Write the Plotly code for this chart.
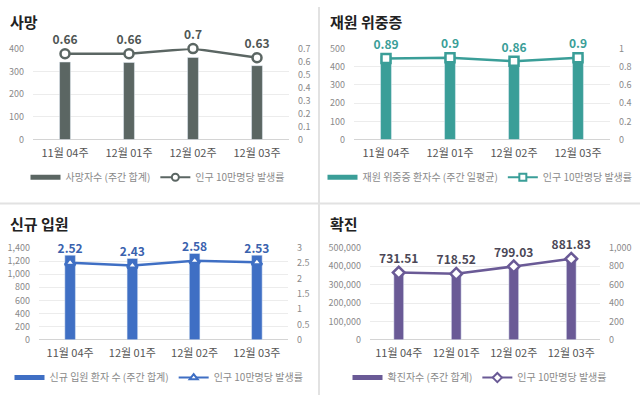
import plotly.graph_objects as go

W, H = 640, 401

weeks = ['11월 04주', '12월 01주', '12월 02주', '12월 03주']

# 사망
death_total = [341, 339, 361, 325]
death_rate = [0.66, 0.66, 0.7, 0.63]
# 재원 위중증
severe_avg = [459, 464, 444, 464]
severe_rate = [0.89, 0.9, 0.86, 0.9]
# 신규 입원
hosp_total = [1290, 1240, 1315, 1290]
hosp_rate = [2.52, 2.43, 2.58, 2.53]
# 확진
conf_total = [377400, 370700, 412300, 455000]
conf_rate = [731.51, 718.52, 799.03, 881.83]

FONT = 'Noto Sans CJK KR'


def px_x(v):
    return v / W


def px_y(v):
    return 1 - v / H


panels = [
    dict(title='사망', bars=death_total, rate=death_rate, color='#5b6663', label_color='#4f5654',
         bar_name='사망자수 (주간 합계)', symbol='circle', left=(0, 400, 100), right=(0, 0.70001, 0.1),
         xd=(33, 289), yd=(43, 137), tx=8, ty=15, lx=158, ly=176),
    dict(title='재원 위중증', bars=severe_avg, rate=severe_rate, color='#3a9e98', label_color='#3a9e98',
         bar_name='재원 위중증 환자수 (주간 일평균)', symbol='square', left=(0, 500, 100), right=(0, 1, 0.2),
         xd=(354, 610), yd=(43, 137), tx=328, ty=15, lx=480, ly=176),
    dict(title='신규 입원', bars=hosp_total, rate=hosp_rate, color='#3f6fc4', label_color='#3a62ae',
         bar_name='신규 입원 환자 수 (주간 합계)', symbol='triangle-up', left=(0, 1400, 200), right=(0, 3, 0.5),
         xd=(39, 288), yd=(249, 344), tx=8, ty=224, lx=159, ly=383),
    dict(title='확진', bars=conf_total, rate=conf_rate, color='#6a5a96', label_color='#4b4756',
         bar_name='확진자수 (주간 합계)', symbol='diamond', left=(0, 500000, 100000), right=(0, 1000, 200),
         xd=(370, 600), yd=(249, 344), tx=328, ty=224, lx=480, ly=383),
]

fig = go.Figure()
layout = dict(
    width=W, height=H, margin=dict(l=0, r=0, t=0, b=0),
    paper_bgcolor='white', plot_bgcolor='white',
    font=dict(family=FONT, color='#888888', size=9),
    annotations=[], shapes=[], showlegend=True,
)

for i, p in enumerate(panels):
    n = i + 1
    xa = 'x' if n == 1 else 'x%d' % n
    yl = 2 * i + 1
    yr = 2 * i + 2
    ya_l = 'y' if yl == 1 else 'y%d' % yl
    ya_r = 'y%d' % yr
    leg = 'legend' if n == 1 else 'legend%d' % n

    fig.add_trace(go.Bar(x=weeks, y=p['bars'], width=0.17, marker_color=p['color'],
                         xaxis=xa, yaxis=ya_l, showlegend=False, hoverinfo='skip'))
    fig.add_trace(go.Scatter(x=weeks, y=p['rate'], xaxis=xa, yaxis=ya_r, mode='lines+markers+text',
                             line=dict(color=p['color'], width=2.5),
                             marker=dict(symbol=p['symbol'], size=9, color='white',
                                         line=dict(color=p['color'], width=2.5)),
                             text=[('{:.2f}'.format(v)).rstrip('0').rstrip('.') if n < 4 else '{:.2f}'.format(v)
                                   for v in p['rate']],
                             textposition='top center', cliponaxis=False,
                             textfont=dict(family=FONT, size=12, color=p['label_color'], weight='bold'),
                             showlegend=False, hoverinfo='skip'))
    # legend entries
    fig.add_trace(go.Scatter(x=[None], y=[None], xaxis=xa, yaxis=ya_l, mode='lines',
                             line=dict(color=p['color'], width=5), name=p['bar_name'], legend=leg))
    fig.add_trace(go.Scatter(x=[None], y=[None], xaxis=xa, yaxis=ya_r, mode='lines+markers',
                             line=dict(color=p['color'], width=2),
                             marker=dict(symbol=p['symbol'], size=7, color='white',
                                         line=dict(color=p['color'], width=2)),
                             name='인구 10만명당 발생률', legend=leg))

    xkey = 'xaxis' if n == 1 else 'xaxis%d' % n
    layout[xkey] = dict(domain=[px_x(p['xd'][0]), px_x(p['xd'][1])], anchor=ya_l, type='category',
                        range=[-0.5, 3.5], showgrid=False, showline=False, ticks='',
                        tickfont=dict(size=11, color='#555555'), ticklabelstandoff=5)
    lkey = 'yaxis' if yl == 1 else 'yaxis%d' % yl
    layout[lkey] = dict(domain=[px_y(p['yd'][1]), px_y(p['yd'][0])], anchor=xa,
                        range=[p['left'][0], p['left'][1]], dtick=p['left'][2], tickformat=',',
                        showgrid=True, gridcolor='#ececec', gridwidth=1,
                        zeroline=True, zerolinecolor='#d4d4d4', zerolinewidth=1,
                        showline=False, ticks='', ticklabelstandoff=8,
                        tickfont=dict(size=9, color='#8a8a8a'))
    layout['yaxis%d' % yr] = dict(overlaying=ya_l, anchor=xa, side='right',
                                  range=[p['right'][0], p['right'][1]], dtick=p['right'][2], tickformat=',',
                                  showgrid=False, zeroline=False, showline=False, ticks='',
                                  ticklabelstandoff=8, tickfont=dict(size=9, color='#8a8a8a'))
    layout[leg] = dict(orientation='h', x=px_x(p['lx']), y=px_y(p['ly']), xanchor='center', yanchor='middle',
                       font=dict(size=10, color='#8a8a8a', family=FONT), bgcolor='rgba(0,0,0,0)',
                       itemclick=False, itemdoubleclick=False)
    layout['annotations'].append(dict(text='<b>%s</b>' % p['title'], x=px_x(p['tx']), y=px_y(p['ty']),
                                      xref='paper', yref='paper', xanchor='left', yanchor='middle',
                                      showarrow=False, font=dict(size=15, color='#222222', family=FONT)))

# panel dividers
layout['shapes'].append(dict(type='line', xref='paper', yref='paper', x0=px_x(319), x1=px_x(319), y0=0, y1=1,
                             line=dict(color='#e2e2e2', width=2)))
layout['shapes'].append(dict(type='line', xref='paper', yref='paper', x0=0, x1=1, y0=px_y(203), y1=px_y(203),
                             line=dict(color='#e2e2e2', width=2)))

fig.update_layout(**layout)
fig.write_html('out.html', config={'displayModeBar': False},
               post_script="document.body.style.margin='0px';document.body.style.padding='0px';")
